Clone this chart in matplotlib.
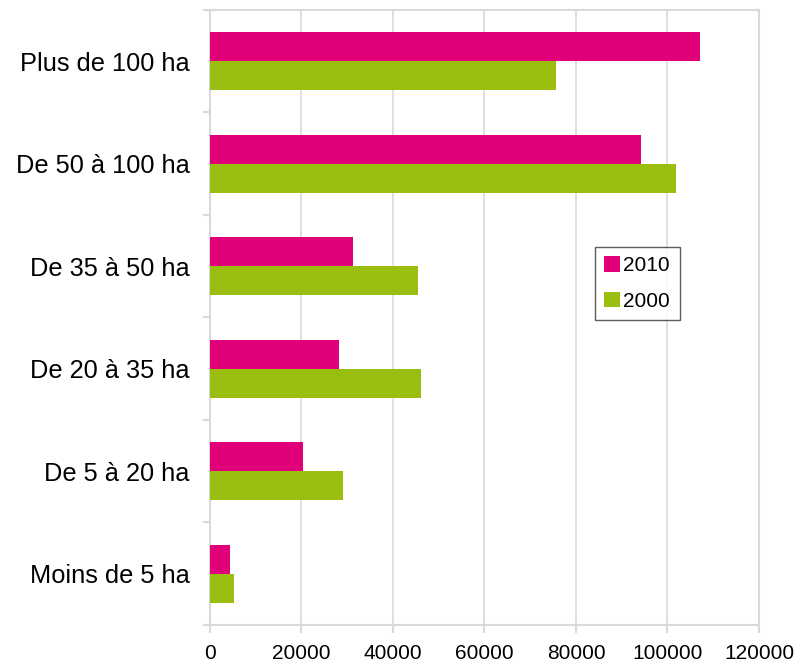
import matplotlib
matplotlib.use('Agg')
import matplotlib.pyplot as plt
import numpy as np

# data
categories = ['Moins de 5 ha', 'De 5 à 20 ha', 'De 20 à 35 ha',
              'De 35 à 50 ha', 'De 50 à 100 ha', 'Plus de 100 ha']
values_2010 = [4400, 20300, 28100, 31300, 94300, 107100]
values_2000 = [5300, 29100, 46200, 45400, 101800, 75600]
x_ticks = [0, 20000, 40000, 60000, 80000, 100000, 120000]

pink = '#E2007A'
green = '#99BE0F'
grey = '#D9D9D9'

plt.rcParams['font.family'] = ['Liberation Sans', 'DejaVu Sans']

fig = plt.figure(figsize=(7.96, 6.65), dpi=100)
ax = fig.add_axes([0.2638, 0.0602, 0.6897, 0.9248])

y = np.arange(len(categories))
h = 0.285
ax.barh(y + h / 2, values_2010, height=h, color=pink, label='2010', zorder=3)
ax.barh(y - h / 2, values_2000, height=h, color=green, label='2000', zorder=3)

ax.set_xlim(0, 120000)
ax.set_ylim(-0.5, len(categories) - 0.5)
ax.set_xticks(x_ticks)
ax.set_xticklabels([str(v) for v in x_ticks], fontsize=15)
ax.set_yticks(y)
ax.set_yticklabels(categories, fontsize=18.3)
ax.set_yticks(np.arange(-0.5, len(categories)), minor=True)

ax.tick_params(axis='y', which='major', length=0, pad=14.5)
ax.tick_params(axis='y', which='minor', length=5, color=grey, width=1.5)
ax.tick_params(axis='x', length=6, color=grey, width=1.5, pad=8)

ax.grid(axis='x', color=grey, linewidth=1.2, zorder=0)
for s in ax.spines.values():
    s.set_color(grey)
    s.set_linewidth(1.5)

leg = ax.legend(loc='upper left', bbox_to_anchor=(0.701, 0.6146), fontsize=15,
                frameon=True, fancybox=False, edgecolor='#333333',
                handlelength=0.77, handleheight=0.77, handletextpad=0.15,
                labelspacing=0.78, borderpad=0.45, borderaxespad=0)
leg.get_frame().set_linewidth(1.0)

fig.savefig('out.png', dpi=100)
